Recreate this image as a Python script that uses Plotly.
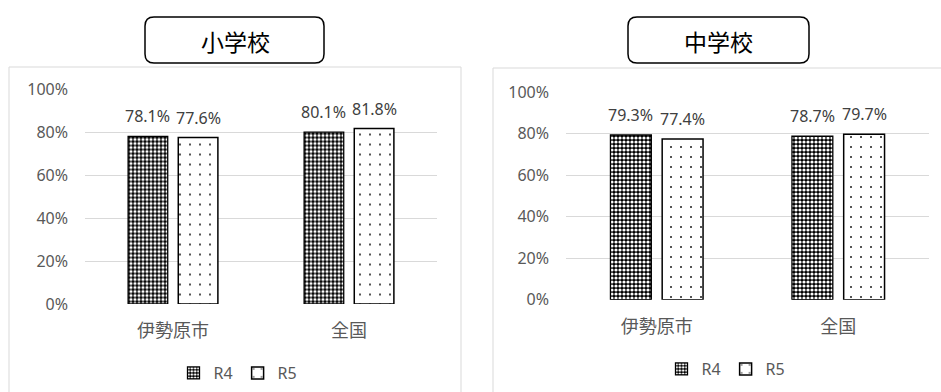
import plotly.graph_objects as go

W, H = 941, 392

categories = ["伊勢原市", "全国"]
series_names = ["R4", "R5"]
elem_r4 = [0.781, 0.801]
elem_r5 = [0.776, 0.818]
junior_r4 = [0.793, 0.787]
junior_r5 = [0.774, 0.797]
panel_titles = ["小学校", "中学校"]
y_ticks = [0, 0.2, 0.4, 0.6, 0.8, 1.0]
y_tick_text = ["0%", "20%", "40%", "60%", "80%", "100%"]

FONT = "Noto Sans, Noto Sans CJK JP, sans-serif"
CJK = "Noto Sans CJK JP, sans-serif"

def px(x):
    return x / W

def py(y):
    return 1 - y / H

pat_r4 = dict(shape=".", fgcolor="white", bgcolor="black", size=4, solidity=0.5, fillmode="replace")
pat_r5 = dict(shape=".", fgcolor="black", bgcolor="white", size=10, solidity=0.025, fillmode="replace")

fig = go.Figure()
panels = [(elem_r4, elem_r5, "x", "y", "legend"), (junior_r4, junior_r5, "x2", "y2", "legend2")]
for r4, r5, xa, ya, lg in panels:
    fig.add_trace(go.Bar(x=categories, y=r4, name=series_names[0], xaxis=xa, yaxis=ya, legend=lg,
                         marker=dict(color="black", pattern=pat_r4, line=dict(color="black", width=1.3))))
    fig.add_trace(go.Bar(x=categories, y=r5, name=series_names[1], xaxis=xa, yaxis=ya, legend=lg,
                         marker=dict(color="white", pattern=pat_r5, line=dict(color="black", width=1.5))))

bargap, bargroupgap = 0.43, 0.21
off = (1 - bargap) / 4

annotations = []
for r4, r5, xa, ya, lg in panels:
    for i in range(len(categories)):
        for v, sgn in ((r4[i], -1), (r5[i], 1)):
            annotations.append(dict(x=i + sgn * off, y=v, xref=xa, yref=ya, text=f"{v*100:.1f}%",
                                    showarrow=False, xanchor="center", yanchor="bottom", yshift=7,
                                    font=dict(family=FONT, size=16, color="#404040")))

def rounded_rect(x0, y0, x1, y1, r):
    rx, ry = r / W, r / H
    X0, X1 = px(x0), px(x1)
    Y0, Y1 = py(y1), py(y0)  # bottom, top
    return (f"M {X0+rx},{Y1} L {X1-rx},{Y1} Q {X1},{Y1} {X1},{Y1-ry} "
            f"L {X1},{Y0+ry} Q {X1},{Y0} {X1-rx},{Y0} L {X0+rx},{Y0} "
            f"Q {X0},{Y0} {X0},{Y0+ry} L {X0},{Y1-ry} Q {X0},{Y1} {X0+rx},{Y1} Z")

shapes = [
    dict(type="rect", xref="paper", yref="paper", x0=px(9), x1=px(461), y0=-0.02, y1=py(67),
         line=dict(color="#D9D9D9", width=1), fillcolor="rgba(0,0,0,0)", layer="below"),
    dict(type="rect", xref="paper", yref="paper", x0=px(493), x1=1.02, y0=-0.02, y1=py(68),
         line=dict(color="#D9D9D9", width=1), fillcolor="rgba(0,0,0,0)", layer="below"),
    dict(type="path", xref="paper", yref="paper", path=rounded_rect(145, 17, 324, 63, 9),
         line=dict(color="black", width=1.5), fillcolor="white"),
    dict(type="path", xref="paper", yref="paper", path=rounded_rect(628, 17, 809, 63, 9),
         line=dict(color="black", width=1.5), fillcolor="white"),
]

annotations.append(dict(x=px(235), y=py(41), xref="paper", yref="paper", text=panel_titles[0],
                        xanchor="center", yanchor="middle",
                        showarrow=False, font=dict(family=CJK, size=23, color="black")))
annotations.append(dict(x=px(718), y=py(41), xref="paper", yref="paper", text=panel_titles[1],
                        xanchor="center", yanchor="middle",
                        showarrow=False, font=dict(family=CJK, size=23, color="black")))

yaxis_common = dict(range=[0, 1], tickvals=y_ticks, ticktext=y_tick_text, showgrid=True,
                    gridcolor="#D9D9D9", gridwidth=1, zeroline=False, showline=False,
                    ticklabelstandoff=16, tickfont=dict(family=FONT, size=16, color="#595959"),
                    fixedrange=True, automargin=False)
xaxis_common = dict(showline=False, showgrid=False, zeroline=False, ticks="",
                    tickfont=dict(family=CJK, size=18, color="#595959"), ticklabelstandoff=14,
                    automargin=False)

legend_common = dict(orientation="h", xanchor="center", yanchor="middle", bgcolor="rgba(0,0,0,0)",
                     font=dict(family=FONT, size=16, color="#595959"), itemwidth=30,
                     traceorder="normal", xref="container", yref="container")

fig.update_layout(
    width=W, height=H, margin=dict(l=0, r=0, t=0, b=0, autoexpand=False),
    paper_bgcolor="white", plot_bgcolor="white",
    barmode="group", bargap=bargap, bargroupgap=bargroupgap,
    xaxis=dict(domain=[px(85), px(437)], anchor="y", **xaxis_common),
    yaxis=dict(domain=[py(304), py(89.5)], anchor="x", **yaxis_common),
    xaxis2=dict(domain=[px(566), px(929)], anchor="y2", **xaxis_common),
    yaxis2=dict(domain=[py(299.7), py(92)], anchor="x2", **yaxis_common),
    legend=dict(x=px(238), y=py(373), **legend_common),
    legend2=dict(x=px(726), y=py(369), **legend_common),
    shapes=shapes, annotations=annotations, showlegend=True,
)

fig.write_html("out.html")
